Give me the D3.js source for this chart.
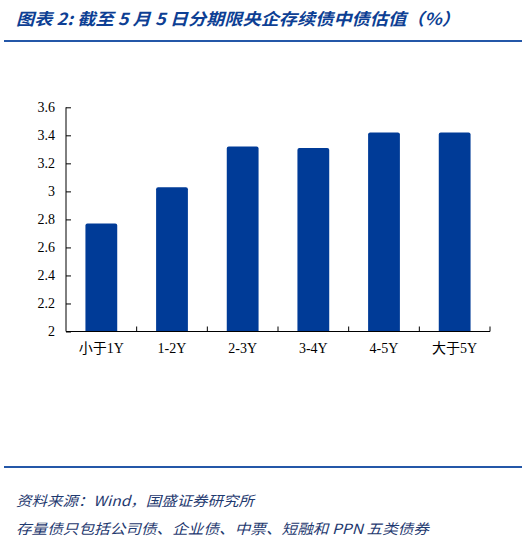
<!DOCTYPE html>
<html><head><meta charset="utf-8">
<script src="https://cdn.jsdelivr.net/npm/d3@7"></script>
<style>
body{margin:0;background:#fff;}
svg{display:block;}
</style></head>
<body>
<script>
const categories = ["小于1Y","1-2Y","2-3Y","3-4Y","4-5Y","大于5Y"];
const values = [2.77, 3.03, 3.32, 3.31, 3.42, 3.42];
const yTicks = [2, 2.2, 2.4, 2.6, 2.8, 3, 3.2, 3.4, 3.6];
const title = "图表 2:  截至 5 月 5 日分期限央企存续债中债估值（%）";
const source1 = "资料来源：Wind，国盛证券研究所";
const source2 = "存量债只包括公司债、企业债、中票、短融和 PPN 五类债券";

const W = 529, H = 550;
const svg = d3.select("body").append("svg").attr("width", W).attr("height", H);

svg.append("text").attr("x", 16).attr("y", 25)
  .attr("font-family", "'Noto Sans CJK SC', sans-serif")
  .attr("font-size", 16.5).attr("font-weight", "bold").attr("font-style", "italic")
  .attr("fill", "#0D3F94")
  .attr("textLength", 444).attr("lengthAdjust", "spacingAndGlyphs")
  .text(title);

svg.append("line").attr("x1", 4).attr("x2", 522).attr("y1", 41).attr("y2", 41)
  .attr("stroke", "#2457A8").attr("stroke-width", 2);
svg.append("line").attr("x1", 4).attr("x2", 522).attr("y1", 467).attr("y2", 467)
  .attr("stroke", "#2457A8").attr("stroke-width", 2);

const x0 = 66, x1 = 490, yTop = 107.3, yBot = 331.5;
const x = d3.scaleBand().domain(categories).range([x0, x1]).paddingInner(0.55).paddingOuter(0.275);
const y = d3.scaleLinear().domain([2, 3.6]).range([yBot, yTop]);

const g = svg.append("g");
g.selectAll("path.bar").data(values).join("path").attr("class","bar")
  .attr("fill", "#003B97")
  .attr("d", (d, i) => {
    const bx = x(categories[i]), bw = x.bandwidth(), by = y(d), r = 2;
    return `M${bx},${yBot}V${by+r}Q${bx},${by} ${bx+r},${by}H${bx+bw-r}Q${bx+bw},${by} ${bx+bw},${by+r}V${yBot}Z`;
  });

// y axis
const yAxis = g.append("g").attr("transform", `translate(${x0},0)`)
  .call(d3.axisLeft(y).tickValues(yTicks).tickSize(-5).tickPadding(11).tickFormat(d3.format("~g")));
yAxis.attr("font-family", "'Liberation Serif', 'Times New Roman', serif");
yAxis.select(".domain").attr("stroke", "#000").attr("d", `M0,${yTop}V${yBot}`);
yAxis.selectAll(".tick line").attr("stroke", "#000");
yAxis.selectAll("text").style("font-family", "'Liberation Serif', 'Times New Roman', serif")
  .attr("font-size", 14).attr("fill", "#000");

// x axis
const xAxis = g.append("g").attr("transform", `translate(0,${yBot})`)
  .call(d3.axisBottom(x).tickSize(0).tickPadding(12));
xAxis.attr("font-family", "'Liberation Serif', 'Noto Sans CJK SC', serif");
xAxis.select(".domain").attr("stroke", "#000").attr("d", `M${x0},0H${x1}`);
xAxis.selectAll("text").style("font-family", "'Liberation Serif', 'Noto Sans CJK SC', serif")
  .attr("font-size", 14).attr("fill", "#000");
const step = x.step();
g.append("g").selectAll("line").data(d3.range(1, categories.length + 1)).join("line")
  .attr("x1", i => x0 + i * step).attr("x2", i => x0 + i * step)
  .attr("y1", yBot).attr("y2", yBot - 5).attr("stroke", "#000");

svg.append("text").attr("x", 16).attr("y", 506)
  .attr("font-family", "'Noto Sans CJK SC', sans-serif").attr("font-size", 14)
  .attr("font-style", "italic").attr("fill", "#1F3A70")
  .attr("textLength", 238).attr("lengthAdjust", "spacingAndGlyphs")
  .text(source1);
svg.append("text").attr("x", 16).attr("y", 534)
  .attr("font-family", "'Noto Sans CJK SC', sans-serif").attr("font-size", 14)
  .attr("font-style", "italic").attr("fill", "#1F3A70")
  .attr("textLength", 413).attr("lengthAdjust", "spacingAndGlyphs")
  .text(source2);
</script>
</body></html>
